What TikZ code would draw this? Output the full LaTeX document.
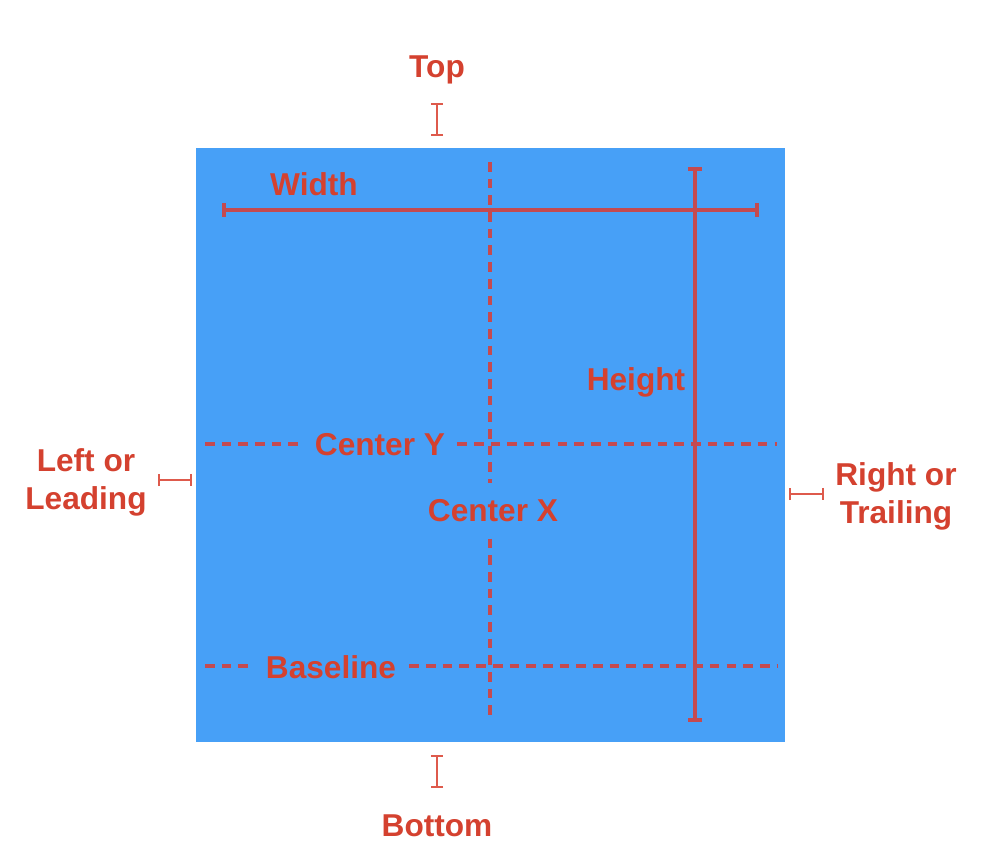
\documentclass[tikz,border=0pt]{standalone}
\usepackage{fontspec}
\setmainfont{Liberation Sans}
\usetikzlibrary{arrows.meta}
\definecolor{boxblue}{HTML}{47A0F7}
\definecolor{lblred}{HTML}{D4412F}
\definecolor{linered}{HTML}{C44A50}
\definecolor{beamred}{HTML}{DE5A4C}

\begin{document}
\begin{tikzpicture}[x=0.02cm, y=-0.02cm,
    lbl/.style={text=lblred, font=\fontsize{18}{21.6}\selectfont\bfseries, inner sep=0pt, align=center},
    guide/.style={linered, line width=2.2pt, dash pattern=on 5.5pt off 4pt},
    dimline/.style={linered, line width=2.1pt, {Bar[width=7.5pt]}-{Bar[width=7.5pt]}},
    heightline/.style={linered, line width=2.1pt, {Bar[width=8pt]}-{Bar[width=8pt]}},
    ibeam/.style={beamred, line width=1.1pt, {Bar[width=7pt]}-{Bar[width=7pt]}}
    ]
    \useasboundingbox (0,0) rectangle (998,852);
    \node[fill=boxblue, inner sep=0pt, minimum width=11.78cm, minimum height=11.88cm] (box) at (490.5,445) {};

    \node[lbl] (width) at (314,184) {Width};
    \node[lbl] (height) at (636,382) {Height};
    \node[lbl, inner xsep=0.24cm] (centery) at (380,445) {Center Y};
    \node[lbl, inner ysep=0.32cm] (centerx) at (493,511) {Center X};
    \node[lbl, inner xsep=0.26cm] (baseline) at (331,667) {Baseline};

    \coordinate (cy1) at (205,444);
    \coordinate (cy2) at (777,444);
    \coordinate (cx1) at (490,162);
    \coordinate (cx2) at (490,715);
    \coordinate (bl1) at (205,666);
    \coordinate (bl2) at (777,666);
    \draw[guide] (cy1) -- (cy1 -| centery.west);
    \draw[guide] (cy1 -| centery.east) -- (cy2);
    \draw[guide] (bl1) -- (bl1 -| baseline.west);
    \draw[guide] (bl1 -| baseline.east) -- (bl2);
    \draw[guide] (cx1) -- (cx1 |- centerx.north);
    \draw[guide] (cx1 |- centerx.south) -- (cx2);

    \coordinate (w1) at (222,210);
    \coordinate (w2) at (759,210);
    \coordinate (h1) at (695,167);
    \coordinate (h2) at (695,722);
    \draw[dimline] (w1) -- (w2);
    \draw[heightline] (h1) -- (h2);

    \node[lbl] (top) at (437,70) {Top};
    \node[lbl] (bottom) at (437,826) {Bottom};
    \node[lbl] (left) at (86,482) {Left or\\Leading};
    \node[lbl] (right) at (896,496) {Right or\\Trailing};

    \coordinate (t1) at (437,103);
    \coordinate (t2) at (437,136);
    \coordinate (b1) at (437,755);
    \coordinate (b2) at (437,788);
    \coordinate (l1) at (158,480);
    \coordinate (l2) at (192,480);
    \coordinate (r1) at (789,494);
    \coordinate (r2) at (824,494);
    \draw[ibeam] (t1) -- (t2);
    \draw[ibeam] (b1) -- (b2);
    \draw[ibeam] (l1) -- (l2);
    \draw[ibeam] (r1) -- (r2);
\end{tikzpicture}
\end{document}
